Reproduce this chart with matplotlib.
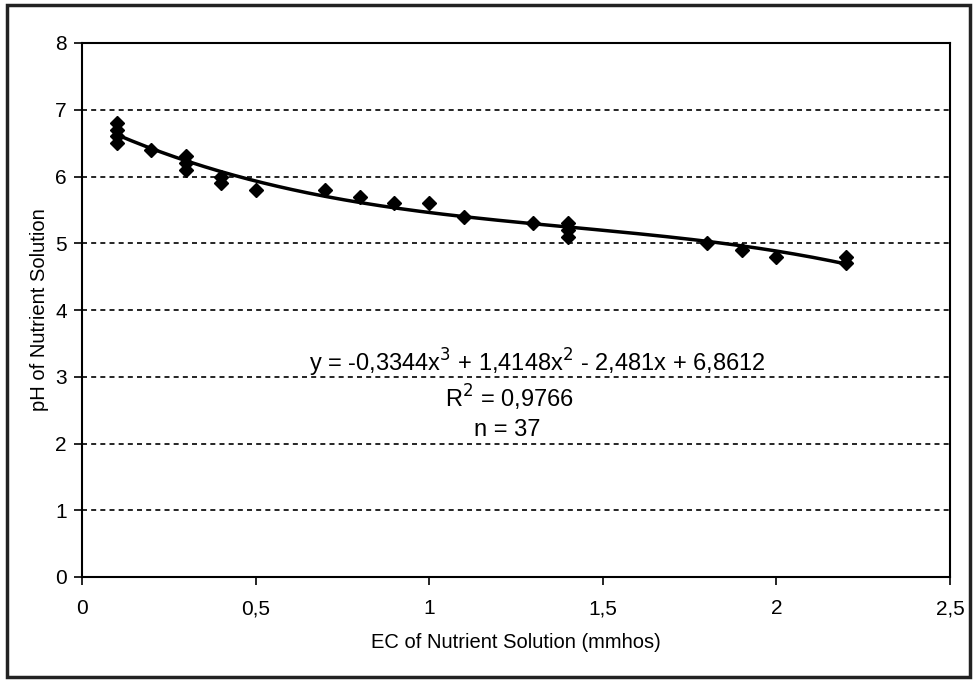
import numpy as np
import matplotlib.pyplot as plt
from matplotlib.patches import Rectangle

# measured points (EC, pH)
ec = [0.1, 0.1, 0.1, 0.1, 0.2, 0.3, 0.3, 0.3, 0.4, 0.4, 0.5, 0.7, 0.8,
      0.9, 1.0, 1.1, 1.3, 1.4, 1.4, 1.4, 1.8, 1.9, 2.0, 2.2, 2.2]
ph = [6.8, 6.7, 6.6, 6.5, 6.4, 6.3, 6.2, 6.1, 6.0, 5.9, 5.8, 5.8, 5.7,
      5.6, 5.6, 5.4, 5.3, 5.3, 5.2, 5.1, 5.0, 4.9, 4.8, 4.8, 4.7]

# trendline coefficients shown on the chart
coefs = [-0.3344, 1.4148, -2.481, 6.8612]

xticks = [0, 0.5, 1, 1.5, 2, 2.5]
xticklabels = ['0', '0,5', '1', '1,5', '2', '2,5']
yticks = [0, 1, 2, 3, 4, 5, 6, 7, 8]

plt.rcParams['font.family'] = ['Liberation Sans', 'DejaVu Sans']

fig = plt.figure(figsize=(9.78, 6.82), dpi=100)
ax = fig.add_axes([82/978, 1-577/682, (950-82)/978, (577-43)/682])

# outer frame
fig.patches.append(Rectangle((7/978, 5/682), 963/978, 672/682, transform=fig.transFigure,
                             fill=False, edgecolor='#222222', linewidth=2.5))

for yv in yticks[1:-1]:
    ax.axhline(yv, color='black', linestyle=(0, (3, 2.5)), linewidth=1.2, zorder=1)

xs = np.linspace(min(ec), max(ec), 200)
ax.plot(xs, np.polyval(coefs, xs), color='black', linewidth=2.5, zorder=2)
ax.plot(ec, ph, linestyle='none', marker='D', markersize=7.5, color='black', zorder=3)

ax.set_xlim(0, 2.5)
ax.set_ylim(0, 8)
ax.set_xticks(xticks)
ax.set_xticklabels(xticklabels)
ax.set_yticks(yticks)
ax.tick_params(direction='out', length=6, width=1.2, labelsize=15)
ax.tick_params(axis='x', pad=10)
ax.tick_params(axis='y', pad=5)
for s in ax.spines.values():
    s.set_linewidth(1.5)

ax.set_xlabel('EC of Nutrient Solution (mmhos)', fontsize=14.5, labelpad=11)
ax.set_ylabel('pH of Nutrient Solution', fontsize=14.5, labelpad=4)

ax.text(1.31, 3.2, 'y = -0,3344x$^3$ + 1,4148x$^2$ - 2,481x + 6,8612', ha='center', va='center',
        fontsize=17)
ax.text(1.23, 2.68, 'R$^2$ = 0,9766', ha='center', va='center', fontsize=17)
ax.text(1.13, 2.2, 'n = 37', ha='left', va='center', fontsize=17)

fig.savefig('out.png', dpi=100)
